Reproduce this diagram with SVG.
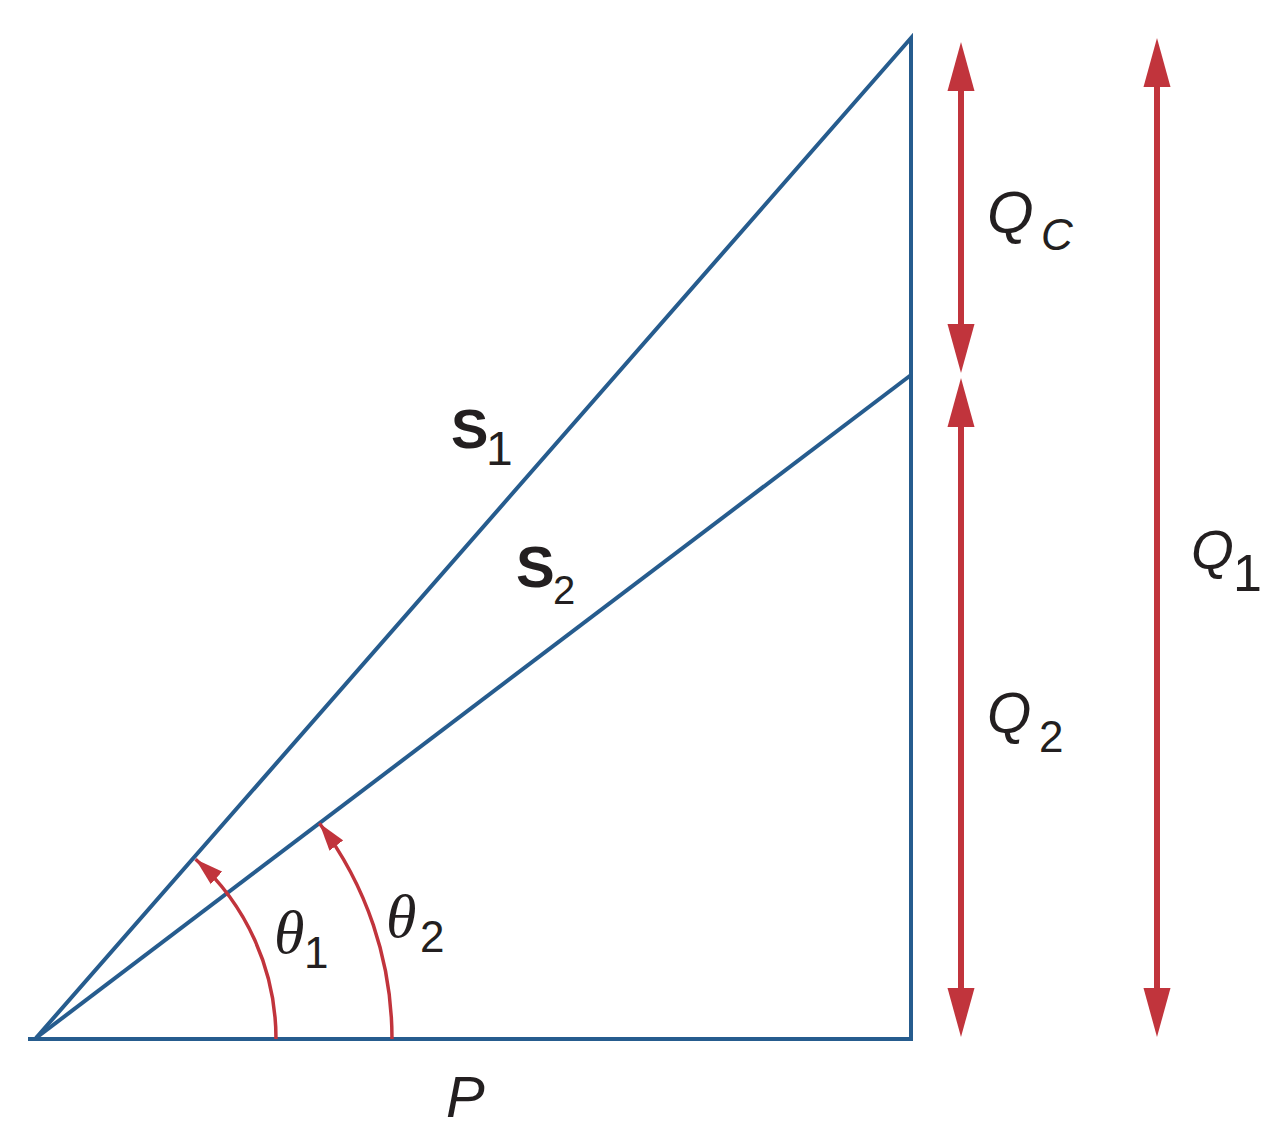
<svg xmlns="http://www.w3.org/2000/svg" width="1276" height="1144" viewBox="0 0 1276 1144">
<style>
.blue{fill:none;stroke:#265c8e;stroke-width:4;stroke-linejoin:miter}
.red{fill:none;stroke:#c1343c;stroke-width:6}
.arc{fill:none;stroke:#c1343c;stroke-width:3.5}
.lbl{font-family:"Liberation Sans",Arial,sans-serif;fill:#231f20}
.it{font-style:italic}
.bd{font-weight:bold}
.th{font-family:"Liberation Serif","Times New Roman",serif;font-style:italic;fill:#231f20}
</style>
<defs>
<marker id="bigHead" markerUnits="userSpaceOnUse" markerWidth="50" markerHeight="28" refX="0" refY="13.5" orient="auto-start-reverse" viewBox="0 0 50 27">
<path d="M0,0 L49,13.5 L0,27 z" fill="#c1343c"/>
</marker>
<marker id="arcHead" markerUnits="userSpaceOnUse" markerWidth="30" markerHeight="18" refX="28" refY="8.5" orient="auto" viewBox="0 0 30 17">
<path d="M0,0 L28,8.5 L0,17 z" fill="#c1343c"/>
</marker>
</defs>
<g id="triangle">
<path class="blue" d="M36 1038 L911 38 L911 1039 L28 1039"/>
<line class="blue" x1="36" y1="1038" x2="911" y2="375"/>
</g>
<g id="connectors">
<line class="red" x1="961" y1="91" x2="961" y2="324" marker-start="url(#bigHead)" marker-end="url(#bigHead)"/>
<line class="red" x1="961" y1="427" x2="961" y2="988" marker-start="url(#bigHead)" marker-end="url(#bigHead)"/>
<line class="red" x1="1157" y1="87" x2="1157" y2="988" marker-start="url(#bigHead)" marker-end="url(#bigHead)"/>
<path class="arc" d="M276 1039 A241 241 0 0 0 195.6 859.3" marker-end="url(#arcHead)"/>
<path class="arc" d="M392 1039 A357 357 0 0 0 319.4 823.2" marker-end="url(#arcHead)"/>
</g>
<g id="label-S1"><text class="lbl bd" x="451" y="448" font-size="56">S</text><text class="lbl" x="486" y="465" font-size="48">1</text></g>
<g id="label-S2"><text class="lbl bd" x="516" y="587" font-size="58">S</text><text class="lbl" x="553" y="604" font-size="40">2</text></g>
<g id="label-QC"><text class="lbl it" x="987" y="233" font-size="60">Q</text><text class="lbl it" x="1041" y="250" font-size="44">C</text></g>
<g id="label-Q2"><text class="lbl it" x="987" y="733" font-size="57">Q</text><text class="lbl" x="1039" y="752" font-size="44">2</text></g>
<g id="label-Q1"><text class="lbl it" x="1191" y="569" font-size="55">Q</text><text class="lbl" x="1233" y="591" font-size="52">1</text></g>
<g id="label-theta1"><text class="th" x="274" y="953" font-size="62">θ</text><text class="lbl" x="304" y="968" font-size="44">1</text></g>
<g id="label-theta2"><text class="th" x="386" y="937" font-size="62">θ</text><text class="lbl" x="420" y="952" font-size="44">2</text></g>
<g id="label-P"><text class="lbl it" x="446" y="1117" font-size="58">P</text></g>
</svg>
